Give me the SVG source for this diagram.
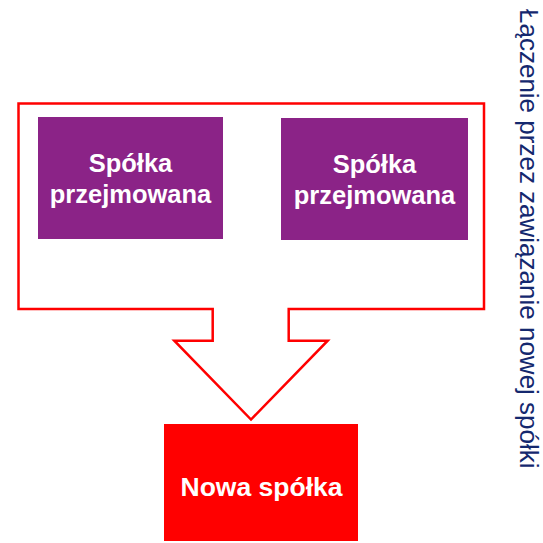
<svg xmlns="http://www.w3.org/2000/svg" width="543" height="543" viewBox="0 0 543 543">
<style>
.box{fill:#8B2387}
.lbl{font-family:"Liberation Sans",Arial,sans-serif;font-weight:bold;font-size:25.5px;fill:#fff;text-anchor:middle}
.outline{fill:none;stroke:#FF0000;stroke-width:2.5;stroke-linejoin:miter}
.side{font-family:"Liberation Sans",Arial,sans-serif;font-size:26px;fill:#14286E}
</style>
<rect width="543" height="543" fill="#fff"/>
<g id="connectors">
<path class="outline" d="M18.5,103.5 H484 V309 H288.7 V340.7 H327.7 L251,419.5 L174.3,340.7 H212.7 V309 H18.5 Z"/>
</g>
<g id="node-a">
<rect class="box" x="38" y="117" width="185" height="122"/>
<text class="lbl" x="130.5" y="172">Spółka</text>
<text class="lbl" x="130.5" y="203">przejmowana</text>
</g>
<g id="node-b">
<rect class="box" x="281" y="118" width="187" height="122"/>
<text class="lbl" x="374.5" y="173">Spółka</text>
<text class="lbl" x="374.5" y="204">przejmowana</text>
</g>
<g id="node-new">
<rect x="164" y="424" width="194" height="117" fill="#FF0000"/>
<text class="lbl" x="261.5" y="496" style="font-size:26.5px">Nowa spółka</text>
</g>
<g id="title">
<text class="side" transform="translate(520,9) rotate(90)">Łączenie przez zawiązanie nowej spółki</text>
</g>
</svg>
